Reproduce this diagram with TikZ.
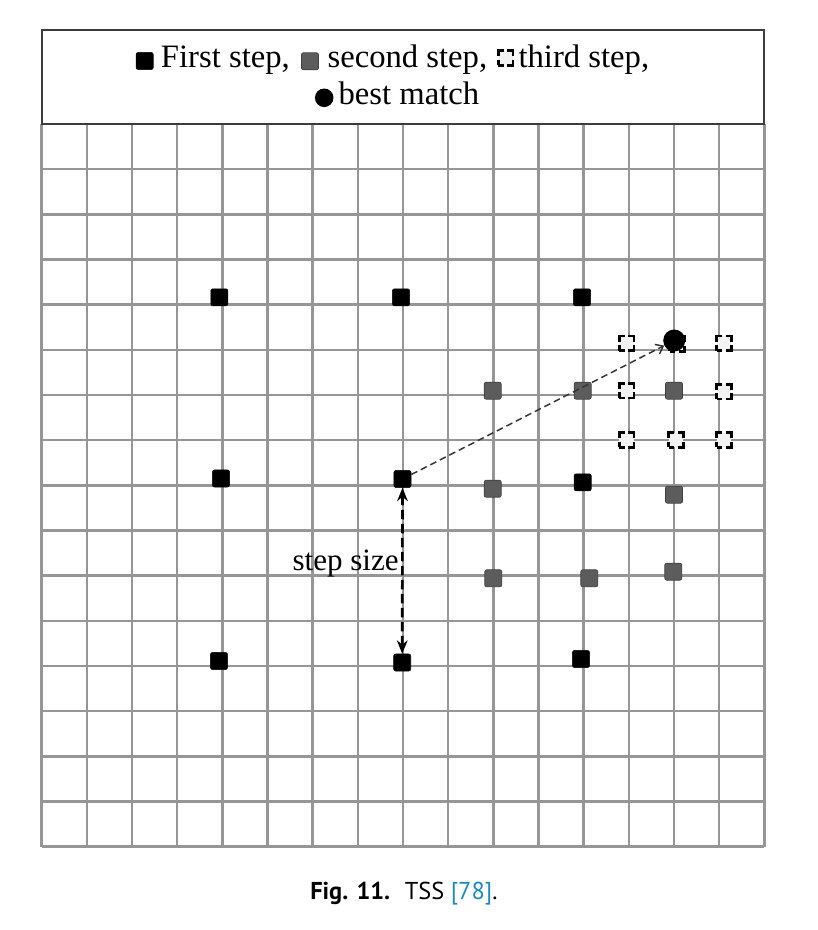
\documentclass[tikz,border=0pt]{standalone}
\usepackage{fontspec}
\setmainfont{Liberation Serif}
\newfontfamily\captionfont{PT Sans}
\usetikzlibrary{arrows.meta,positioning,calc}
\definecolor{gridgray}{RGB}{150,150,150}
\definecolor{boxgray}{RGB}{60,60,60}
\definecolor{secondgray}{RGB}{92,92,92}
\definecolor{thirdfill}{RGB}{242,242,242}
\definecolor{citeblue}{RGB}{28,138,185}

\begin{document}
\begin{tikzpicture}[x=0.75pt,y=-0.75pt,>=Stealth,
    gridline/.style={draw=gridgray,line width=1.9pt},
    firstmark/.style={rectangle,draw=black,fill=black,rounded corners=1.5pt,
        minimum size=12.8pt,inner sep=0pt,line width=0.4pt},
    secondmark/.style={rectangle,draw=black!75,fill=secondgray,rounded corners=1.5pt,
        minimum size=12.8pt,inner sep=0pt,line width=0.5pt},
    thirdmark/.style={rectangle,draw=black,fill=thirdfill,minimum size=11pt,
        inner sep=0pt,line width=1.9pt,dash pattern=on 8.5pt off 2.5pt,dash phase=4.25pt},
    bestmark/.style={circle,fill=black,minimum size=16.5pt,inner sep=0pt},
    legendtext/.style={anchor=base west,inner sep=0pt,font=\fontsize{24.5}{28}\selectfont},
    steparrow/.style={{Stealth[length=10pt,width=8pt]}-{Stealth[length=10pt,width=8pt]},
        line width=2pt,dash pattern=on 7pt off 3.5pt},
    matcharrow/.style={-{Straight Barb[length=5pt,width=8pt]},draw=black!80,
        line width=1.1pt,dash pattern=on 5pt off 3pt}]
    \useasboundingbox (0,0) rectangle (817,930);

    % search grid
    \foreach \i in {0,...,16} {
        \draw[gridline] ({41.7+45.16*\i},124) -- ({41.7+45.16*\i},846.7);
        \draw[gridline] (41.7,{124+45.17*\i}) -- (764.3,{124+45.17*\i});
    }

    % legend
    \draw[boxgray,line width=1.5pt] (41.7,30) rectangle (764.3,124);
    \node[firstmark] (lfirst) at (144.7,61) {};
    \node[legendtext] (tfirst) at (160.7,67.3) {First step,};
    \node[secondmark] (lsecond) at (310,61.3) {};
    \node[legendtext] (tsecond) at (327.3,67.3) {second step,};
    \node[thirdmark] (lthird) at (505.8,58) {};
    \node[legendtext] (tthird) at (518.3,67.3) {third step,};
    \node[bestmark,minimum size=13.9pt] (lbest) at (324.2,97.8) {};
    \node[legendtext] (tbest) at (338.3,105) {best match};

    % first step
    \node[firstmark] (f1) at (219.3,297.3) {};
    \node[firstmark] (f2) at (401,297.3) {};
    \node[firstmark] (f3) at (582,297.3) {};
    \node[firstmark] (f4) at (221,478.5) {};
    \node[firstmark] (f5) at (402.5,479) {};
    \node[firstmark] (f6) at (582.7,482.3) {};
    \node[firstmark] (f7) at (219,661) {};
    \node[firstmark] (f8) at (402.2,662.5) {};
    \node[firstmark] (f9) at (581,659) {};

    % second step
    \node[secondmark] (s1) at (492.7,390.7) {};
    \node[secondmark] (s2) at (582.7,390.7) {};
    \node[secondmark] (s3) at (674,390.7) {};
    \node[secondmark] (s4) at (492.7,488.7) {};
    \node[secondmark] (s5) at (674,494.7) {};
    \node[secondmark] (s6) at (493.3,578.3) {};
    \node[secondmark] (s7) at (589.3,578.3) {};
    \node[secondmark] (s8) at (673.3,571.7) {};

    % third step
    \node[thirdmark] (t1) at (626.7,343.3) {};
    \node[thirdmark] (t2) at (677,344) {};
    \node[thirdmark] (t3) at (724,343.3) {};
    \node[thirdmark] (t4) at (626.7,390.7) {};
    \node[thirdmark] (t5) at (724,391.7) {};
    \node[thirdmark] (t6) at (626.7,440) {};
    \node[thirdmark] (t7) at (676,440) {};
    \node[thirdmark] (t8) at (724,440) {};

    % best match
    \node[bestmark] (best) at (674.2,340.5) {};

    % arrows
    \draw[matcharrow] (f5) -- (best);
    \draw[steparrow] (f5) -- (f8);
    \node[anchor=base west,inner sep=0pt,font=\fontsize{23.3}{28}\selectfont]
        (stepsize) at (292.3,570.7) {step size};

    % caption
    \node[anchor=base west,inner sep=0pt,font=\captionfont\fontsize{18.3}{22}\selectfont]
        (caption) at (310,899) {\textbf{Fig. 11.}\hspace{0.6em}TSS \textcolor{citeblue}{[78]}.};
\end{tikzpicture}
\end{document}
